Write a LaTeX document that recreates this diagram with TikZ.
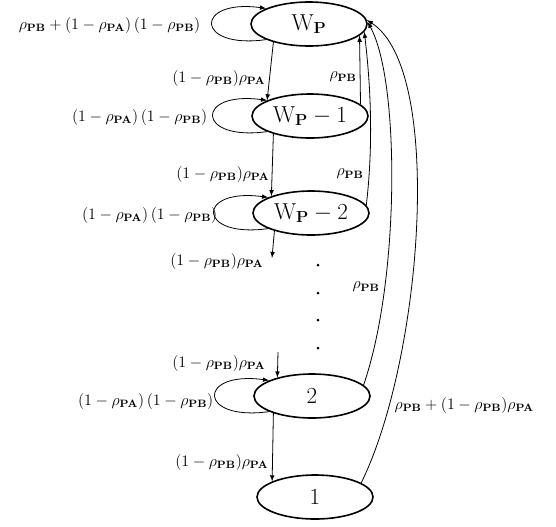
\documentclass[tikz,border=0pt]{standalone}
\usetikzlibrary{shapes.geometric}
\newcommand{\rhoA}{\rho_{\mathbf{PA}}}
\newcommand{\rhoB}{\rho_{\mathbf{PB}}}
\newcommand{\Wp}{\mathrm{W}_{\mathbf{P}}}
\begin{document}
\begin{tikzpicture}[x=0.75pt,y=-0.75pt,>=latex,
  state/.style={ellipse,draw,line width=1.2pt,minimum width=87pt,minimum height=33pt,inner sep=0pt,font=\LARGE},
  tr/.style={->,semithick},
  lbl/.style={font=\large}]
  \useasboundingbox (0,0) rectangle (556,526);
  \node[state] (wp)  at (309,24)  {$\Wp$};
  \node[state] (wp1) at (310,116) {$\Wp-1$};
  \node[state] (wp2) at (311,213) {$\Wp-2$};
  \node[state] (n2)  at (312,396) {$2$};
  \node[state] (n1)  at (315,497) {$1$};
  \coordinate (stub) at (272,258);
  \coordinate (top2) at (278,352);
  \foreach \s in {wp,wp1,wp2,n2}
    \draw[tr] (\s.200) .. controls +(-72,10) and +(-72,-10) .. (\s.160);
  \draw[tr] (wp.207) -- (wp1.160);
  \draw[tr] (wp1.206) -- (wp2.157);
  \draw[tr] (wp2.206) -- (stub);
  \draw[tr] (top2) -- (n2.152);
  \draw[tr] (n2.204) -- (n1.160);
  \draw[tr] (wp1.13) -- (wp.347);
  \draw[tr] (wp2.8) .. controls (374,140) and (370,80) .. (wp.352);
  \draw[tr] (n2.12) .. controls (400,280) and (400,80) .. (wp.2);
  \draw[tr] (n1.17) .. controls (422,360) and (445,70) .. (wp.4);
  \foreach \y in {265,293,320,348}
    \fill (318,\y) circle (1.5);
  \node[lbl,left] (lwp)  at (205,25)  {$\rhoB+(1-\rhoA)\,(1-\rhoB)$};
  \node[lbl,left] (lwp1) at (212,117) {$(1-\rhoA)\,(1-\rhoB)$};
  \node[lbl,left] (lwp2) at (222,215) {$(1-\rhoA)\,(1-\rhoB)$};
  \node[lbl,left] (ln2)  at (218,401) {$(1-\rhoA)\,(1-\rhoB)$};
  \node[lbl,left] (la1) at (270,78)  {$(1-\rhoB)\rhoA$};
  \node[lbl,left] (la2) at (274,174) {$(1-\rhoB)\rhoA$};
  \node[lbl,left] (la3) at (268,261) {$(1-\rhoB)\rhoA$};
  \node[lbl,left] (la4) at (270,363) {$(1-\rhoB)\rhoA$};
  \node[lbl,left] (la5) at (273,462) {$(1-\rhoB)\rhoA$};
  \node[lbl] (lb1) at (343,77)  {$\rhoB$};
  \node[lbl] (lb2) at (350,174) {$\rhoB$};
  \node[lbl] (lb3) at (366,287) {$\rhoB$};
  \node[lbl,right] (lb4) at (390,405) {$\rhoB+(1-\rhoB)\rhoA$};
\end{tikzpicture}
\end{document}
